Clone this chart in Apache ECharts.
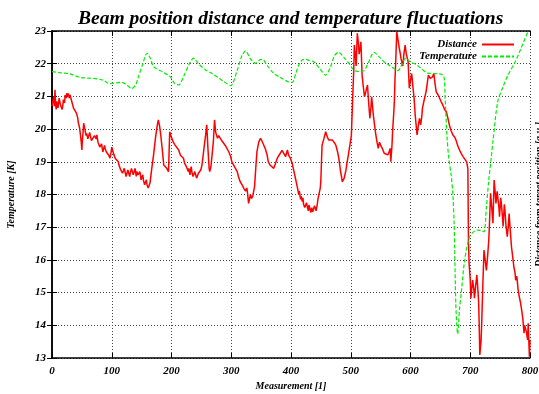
<!DOCTYPE html>
<html>
<head>
<meta charset="utf-8">
<script src="https://cdn.jsdelivr.net/npm/echarts@6/dist/echarts.min.js"></script>
<style>
html,body{margin:0;padding:0;background:#fff;}
#chart{width:539px;height:394px;}
</style>
</head>
<body>
<div id="chart"></div>
<script>
var titleText = 'Beam position distance and temperature fluctuations';
var xName = 'Measurement [1]';
var yName = 'Temperature [K]';
var y2Name = 'Distance from target position [a.u.]';
var seriesNames = ['Distance', 'Temperature'];
var xTicks = [0, 100, 200, 300, 400, 500, 600, 700, 800];
var yTicks = [13, 14, 15, 16, 17, 18, 19, 20, 21, 22, 23];

var distX = [0,2,3,4,5,6,7,8,9,10,11,12,13,14,16,17,18,19,20,21,22,24,25,26,27,28,29,30,31,33,34,35,36,38,39,40,41,43,44,46,47,48,49,50,51,52,53,55,56,57,58,60,61,63,64,66,67,68,69,71,72,74,75,77,78,80,81,83,84,85,86,88,89,91,92,94,95,96,97,98,99,100,101,103,104,106,108,109,111,112,114,115,117,118,120,121,123,124,126,127,129,130,131,133,134,136,137,139,140,141,142,144,145,147,148,149,150,152,153,155,156,158,159,161,162,164,165,167,170,173,176,178,180,182,185,187,190,192,195,197,199,200,203,206,209,212,215,218,220,222,223,225,226,228,229,231,232,233,234,236,237,239,240,242,243,245,246,249,251,253,255,257,259,261,263,264,266,268,270,272,274,277,279,282,284,287,290,293,296,299,301,304,307,310,312,315,317,318,320,321,323,324,326,327,329,331,332,334,336,339,341,343,346,349,351,354,357,360,362,365,368,371,374,377,380,382,385,388,391,394,396,399,402,405,408,411,413,414,416,417,419,420,421,423,424,426,427,429,430,432,433,435,436,438,439,441,442,444,445,447,449,450,451,452,455,458,461,463,466,469,472,475,478,480,483,486,489,492,494,496,499,501,503,505,506,508,509,511,513,514,516,517,519,521,523,526,528,530,532,534,535,538,540,542,544,546,548,550,553,556,559,562,564,566,567,569,570,572,573,574,575,577,578,579,581,583,584,586,587,589,591,593,596,598,600,602,604,606,608,611,613,615,617,619,620,623,626,628,630,633,635,637,639,641,643,646,648,651,654,657,660,663,665,668,671,674,676,679,682,685,688,691,694,696,697,698,700,701,703,704,706,707,709,711,712,714,715,716,718,719,721,723,725,727,729,731,732,734,736,738,739,740,742,743,745,746,748,749,751,752,754,755,757,758,760,762,764,765,767,769,771,773,775,776,778,780,782,784,786,788,790,791,793,794,796,797,799,800];
var distY = [20.7,20.9,21.0,20.7,21.2,20.8,20.6,20.85,20.9,20.65,20.7,20.95,21.0,20.75,20.8,20.6,20.7,20.9,20.95,20.8,21.04,20.95,21.1,21.0,21.09,21.15,20.95,21.05,21.0,20.85,20.8,20.9,20.64,20.7,20.55,20.6,20.48,20.35,20.2,20.05,19.92,19.75,19.6,19.36,19.7,19.9,20.18,20.0,19.95,19.8,19.87,19.7,19.75,19.9,19.92,19.65,19.7,19.6,19.67,19.8,19.85,19.7,19.82,19.6,19.55,19.45,19.41,19.55,19.5,19.3,19.36,19.5,19.4,19.3,19.26,19.35,19.2,19.25,19.11,19.2,19.3,19.45,19.41,19.25,19.2,19.1,19.11,19.05,19.0,18.9,18.9,18.75,18.8,18.65,18.7,18.8,18.75,18.55,18.6,18.75,18.7,18.55,18.65,18.8,18.75,18.6,18.6,18.8,18.75,18.55,18.7,18.6,18.55,18.7,18.6,18.45,18.5,18.6,18.44,18.3,18.35,18.45,18.3,18.2,18.19,18.35,18.39,18.8,19.21,19.7,20.1,20.28,20.1,19.82,19.3,18.9,18.85,18.8,18.7,19.92,19.8,19.82,19.6,19.51,19.45,19.36,19.2,19.15,19.11,18.95,19.0,18.85,18.9,18.7,18.8,18.6,18.75,18.85,18.7,18.55,18.6,18.7,18.65,18.5,18.54,18.65,18.6,18.75,18.9,19.2,19.51,19.8,20.13,19.4,18.8,18.7,18.85,18.9,19.6,20.28,19.9,19.72,19.8,19.77,19.65,19.61,19.5,19.46,19.3,19.16,19.0,18.9,18.8,18.7,18.55,18.39,18.45,18.3,18.35,18.19,18.25,18.1,18.2,18.09,17.73,17.9,18.0,17.88,17.95,18.24,18.8,19.31,19.6,19.72,19.65,19.67,19.4,19.21,19.0,18.9,18.85,18.8,18.95,19.11,19.2,19.26,19.35,19.41,19.16,19.36,19.2,19.11,18.95,18.7,18.45,18.19,18.0,18.1,17.85,17.95,17.78,17.9,17.7,17.6,17.58,17.75,17.65,17.5,17.68,17.55,17.45,17.6,17.47,17.55,17.65,17.58,17.5,17.7,17.85,17.83,18.2,18.44,19.0,19.51,19.7,19.92,19.75,19.67,19.7,19.67,19.6,19.51,19.3,19.11,18.7,18.39,18.5,18.75,19.0,19.21,19.26,19.8,20.84,21.8,22.57,22.2,21.93,22.93,22.6,22.29,22.5,22.67,21.65,21.3,20.99,21.2,21.35,20.8,20.33,20.7,20.99,20.4,20.1,19.82,19.6,19.41,19.6,19.51,19.4,19.26,19.3,19.21,19.3,19.41,19.0,19.5,19.92,20.5,20.84,21.5,21.93,22.98,23.0,23.0,22.5,22.3,22.17,22.0,21.93,22.3,22.57,22.3,22.06,21.25,21.5,21.7,21.3,20.94,20.4,19.82,20.1,20.33,20.13,20.4,20.64,20.9,21.14,21.4,21.65,21.55,21.5,21.6,21.71,21.4,21.14,21.05,20.99,20.85,20.74,20.6,20.53,20.3,20.13,19.95,19.82,19.75,19.67,19.5,19.36,19.25,19.16,19.21,19.0,18.8,16.61,15.9,15.4,14.82,15.2,15.38,15.1,14.83,15.2,15.54,15.3,14.73,14.0,13.09,13.5,13.96,15.2,16.3,16.0,15.68,16.1,16.6,17.02,18.04,17.6,17.12,17.8,18.44,18.0,17.73,18.1,17.93,17.6,17.32,17.9,17.73,17.3,17.02,17.7,17.53,17.0,16.71,17.1,17.42,16.9,16.4,16.1,15.79,15.6,15.38,15.5,15.1,14.88,14.7,14.47,14.2,13.76,14.0,14.06,13.8,13.55,14.06,13.04,13.55,13.1];

var tempX = [0,15,30,47,69,85,97,110,117,125,134,140,144,152,159,165,170,185,198,205,212,220,230,237,245,257,266,276,288,299,310,318,324,332,341,346,352,360,371,385,395,402,408,413,418,424,430,438,448,458,466,473,480,488,497,503,508,515,522,530,539,548,556,562,570,579,585,592,600,609,618,629,640,651,656,658,661,664,668,671,673,674,676,679,682,685,690,698,705,712,718,723,727,731,735,738,746,755,763,775,785,797];
var tempY = [21.76,21.72,21.69,21.58,21.55,21.5,21.39,21.42,21.43,21.35,21.24,21.35,21.56,22.0,22.32,22.15,21.91,21.75,21.6,21.4,21.35,21.6,22.0,22.17,22.0,21.81,21.72,21.6,21.45,21.33,21.8,22.25,22.39,22.15,22.01,22.1,22.13,21.95,21.71,21.55,21.45,21.43,21.7,21.96,22.1,22.14,22.1,22.06,21.85,21.65,21.9,22.25,22.35,22.2,22.01,21.85,21.78,21.76,21.78,22.05,22.35,22.2,22.05,21.98,21.88,21.79,21.95,22.17,22.05,21.98,21.85,21.71,21.7,21.68,21.6,20.94,19.8,19.12,18.6,17.98,17.1,16.3,14.57,13.73,14.5,14.99,15.9,16.67,16.85,16.91,16.9,16.86,17.6,18.44,19.1,19.62,20.84,21.3,21.65,22.05,22.47,23.0];

function pairs(xs, ys){ return xs.map(function(x,i){ return [x, ys[i]]; }); }

var font = 'Liberation Serif, Times New Roman, serif';
var chart = echarts.init(document.getElementById('chart'), null, {renderer:'canvas'});
var gridLine = {show:true, lineStyle:{color:'#444', type:[1,2], width:1}};
var option = {
  animation:false,
  backgroundColor:'#fff',
  title:{text:titleText, left:73, top:4,
    textStyle:{fontFamily:font, fontStyle:'italic', fontWeight:'bold', fontSize:19.5, color:'#000'}},
  legend:{
    data:[
      {name:seriesNames[0], itemStyle:{opacity:0}},
      {name:seriesNames[1], itemStyle:{opacity:0}}
    ],
    orient:'vertical', right:19, top:34, align:'right',
    itemWidth:32, itemHeight:8, itemGap:1,
    textStyle:{fontFamily:font, fontStyle:'italic', fontWeight:'bold', fontSize:11, color:'#000', lineHeight:10}
  },
  grid:{left:52, right:9, top:31, bottom:36, containLabel:false, outerBoundsMode:'none'},
  xAxis:[{
    type:'value', min:0, max:800, interval:100, position:'bottom',
    name:xName, nameLocation:'middle', nameGap:22,
    nameTextStyle:{fontFamily:font, fontStyle:'italic', fontWeight:'bold', fontSize:10, color:'#000'},
    axisLine:{lineStyle:{color:'#000', width:1.5}},
    axisTick:{inside:true, length:5, lineStyle:{color:'#000'}},
    axisLabel:{fontFamily:font, fontStyle:'italic', fontWeight:'bold', fontSize:11, color:'#000', margin:8},
    splitLine:gridLine
  },{
    type:'value', min:0, max:800, interval:100, position:'top',
    axisLine:{lineStyle:{color:'#000', width:1.5}},
    axisTick:{inside:true, length:5, lineStyle:{color:'#000'}},
    axisLabel:{show:false}, splitLine:{show:false}
  }],
  yAxis:[{
    type:'value', min:13, max:23, interval:1, position:'left',
    name:yName, nameLocation:'middle', nameGap:36, nameRotate:90,
    nameTextStyle:{fontFamily:font, fontStyle:'italic', fontWeight:'bold', fontSize:10, color:'#000'},
    axisLine:{show:true, lineStyle:{color:'#000', width:1.5}},
    axisTick:{show:true, inside:true, length:5, lineStyle:{color:'#000'}},
    axisLabel:{fontFamily:font, fontStyle:'italic', fontWeight:'bold', fontSize:11, color:'#000', margin:6},
    splitLine:gridLine
  },{
    type:'value', min:13, max:23, interval:1, position:'right',
    name:y2Name, nameLocation:'middle', nameGap:14, nameRotate:90,
    nameTextStyle:{fontFamily:font, fontStyle:'italic', fontWeight:'bold', fontSize:10, color:'#000', verticalAlign:'bottom'},
    axisLine:{show:true, lineStyle:{color:'#000', width:1.5}},
    axisTick:{show:true, inside:true, length:5, lineStyle:{color:'#000'}},
    axisLabel:{show:false}, splitLine:{show:false}
  }],
  series:[{
    name:seriesNames[0], type:'line', xAxisIndex:0, yAxisIndex:0,
    data:pairs(distX, distY), showSymbol:false, symbol:'none',
    lineStyle:{color:'#ff0000', width:1.5}, itemStyle:{color:'#ff0000'}
  },{
    name:seriesNames[1], type:'line', xAxisIndex:0, yAxisIndex:0,
    data:pairs(tempX, tempY), showSymbol:false, symbol:'none', smooth:0.3,
    lineStyle:{color:'#00ee00', width:1.2, type:[4,2]}, itemStyle:{color:'#00ee00'}
  }]
};
chart.setOption(option);
</script>
</body>
</html>
